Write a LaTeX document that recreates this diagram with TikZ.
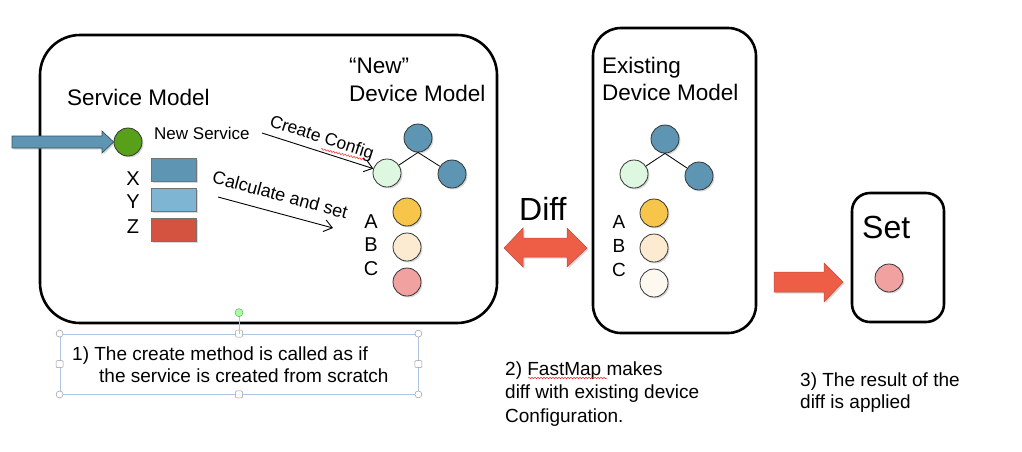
\documentclass[tikz,border=0pt]{standalone}
\usepackage{fontspec}
\setmainfont{Liberation Sans}
\usetikzlibrary{shadows,arrows.meta,decorations.pathmorphing}

\definecolor{steel}{RGB}{94,149,178}
\definecolor{skyb}{RGB}{125,181,211}
\definecolor{brick}{RGB}{211,82,64}
\definecolor{leaf}{RGB}{88,160,25}
\definecolor{mint}{RGB}{221,247,224}
\definecolor{gold}{RGB}{246,197,74}
\definecolor{cream}{RGB}{252,235,208}
\definecolor{rose}{RGB}{242,161,161}
\definecolor{ivory}{RGB}{253,248,240}
\definecolor{flame}{RGB}{238,94,71}
\definecolor{selblue}{RGB}{175,196,222}

\begin{document}
\begin{tikzpicture}[x=1pt,y=-1pt,
    shade/.style={drop shadow={shadow xshift=1.5pt,shadow yshift=-1.5pt,opacity=0.3}},
    dot/.style={circle,draw=black!80,line width=0.8pt,minimum size=28pt,inner sep=0pt,shade},
    bar/.style={draw=black!55,line width=0.6pt,minimum width=45pt,minimum height=23pt,inner sep=0pt,shade},
    panel/.style={draw,line width=2.6pt},
    title/.style={font=\fontsize{22.5}{27}\selectfont,anchor=base west,inner sep=0pt},
    letter/.style={font=\fontsize{20}{24}\selectfont,anchor=base,inner sep=0pt},
    note/.style={font=\fontsize{19}{23.5}\selectfont,anchor=base west,inner sep=0pt},
    big/.style={font=\fontsize{32}{36}\selectfont,anchor=base west,inner sep=0pt},
    thinarrow/.style={line width=0.9pt,-{Straight Barb[length=8pt,width=12pt]}},
    squiggle/.style={red!85,line width=0.5pt,decorate,decoration={snake,segment length=3pt,amplitude=0.8pt}},
    handle/.style={draw=black!40,fill=white,line width=0.5pt,inner sep=0pt,minimum size=7pt}]
  \useasboundingbox (0,0) rectangle (1022,451);

  % panels
  \draw[panel,rounded corners=40pt] (40,35) rectangle (497,323);
  \draw[panel,rounded corners=28pt] (593,28) rectangle (756,333);
  \draw[panel,rounded corners=18pt] (852,193) rectangle (944,322);

  % service model
  \node[title] (svctitle) at (67,105) {Service Model};
  \node[dot,fill=leaf] (svc) at (128,142) {};
  \node[font=\fontsize{17}{20}\selectfont,anchor=base west,inner sep=0pt] (newsvc) at (154,139) {New Service};
  \draw[fill=steel,draw=steel!55!black,line width=0.7pt,shade]
    (12,136) -- (102,136) -- (102,131) -- (svc.west) -- (102,153) -- (102,148) -- (12,148) -- cycle;
  \node[letter] (lx) at (133,185) {X};
  \node[letter] (ly) at (133,208) {Y};
  \node[letter] (lz) at (133,233) {Z};
  \node[bar,fill=steel] (bx) at (173.5,169.5) {};
  \node[bar,fill=skyb] (by) at (173.5,199.5) {};
  \node[bar,fill=brick] (bz) at (173.5,229.5) {};

  % "new" device model
  \node[title] (newq) at (349,73) {``New''};
  \node[title] (newdev) at (349,101) {Device Model};
  \node[dot,fill=steel] (nroot) at (418,138) {};
  \node[dot,fill=mint] (nleft) at (387,173) {};
  \node[dot,fill=steel] (nright) at (452,174) {};
  \draw[line width=0.8pt] (nleft) -- (nroot.south) -- (nright);
  \node[letter] (na) at (371,228) {A};
  \node[letter] (nb) at (371,251) {B};
  \node[letter] (nc) at (371,275) {C};
  \node[dot,fill=gold] (nA) at (407,212) {};
  \node[dot,fill=cream] (nB) at (407,247) {};
  \node[dot,fill=rose] (nC) at (407,282) {};

  \coordinate (cfgstart) at (262,133);
  \draw[thinarrow] (cfgstart) -- node[sloped,above=1pt,font=\fontsize{17.5}{20}\selectfont] (cfg) {Create Config} (nleft);
  \coordinate (calcstart) at (218,197);
  \coordinate (calcend) at (333,228);
  \draw[thinarrow] (calcstart) -- node[sloped,above=8pt,font=\fontsize{18}{21}\selectfont] (calc) {Calculate and set} (calcend);
  \draw[squiggle] (321,149) -- (366,160);

  % diff
  \node[big] (difftxt) at (519,220) {Diff};
  \draw[fill=flame,draw=flame!80!black,line width=0.5pt,shade]
    (504,248) -- (523,228) -- (523,238) -- (567,238) -- (567,228) -- (587,248)
    -- (567,267) -- (567,257) -- (523,257) -- (523,267) -- cycle;

  % existing device model
  \node[title] (extitle) at (602,73) {Existing};
  \node[title] (exdev) at (602,100) {Device Model};
  \node[dot,fill=steel] (eroot) at (665,139) {};
  \node[dot,fill=mint] (eleft) at (634,174) {};
  \node[dot,fill=steel] (eright) at (699,176) {};
  \draw[line width=0.8pt] (eleft) -- (eroot.south) -- (eright);
  \node[letter,font=\fontsize{19}{23}\selectfont] (ea) at (619,228) {A};
  \node[letter,font=\fontsize{19}{23}\selectfont] (eb) at (619,252) {B};
  \node[letter,font=\fontsize{19}{23}\selectfont] (ec) at (619,276) {C};
  \node[dot,fill=gold] (eA) at (654,213) {};
  \node[dot,fill=cream] (eB) at (654,248) {};
  \node[dot,fill=ivory] (eC) at (654,283) {};

  % set
  \draw[fill=flame,draw=flame!80!black,line width=0.5pt,shade]
    (774,272) -- (824,272) -- (824,263) -- (843,282) -- (824,302) -- (824,292) -- (774,292) -- cycle;
  \node[big] (settxt) at (862,238) {Set};
  \node[dot,fill=rose] (setdot) at (889,278) {};

  % notes
  \node[draw=selblue,line width=0.8pt,minimum width=358pt,minimum height=60pt,inner sep=0pt] (selbox) at (239,364) {};
  \foreach \p in {north west,north east,south west,south east}
    \node[handle,circle] at (selbox.\p) {};
  \foreach \p in {north,south,east,west}
    \node[handle,rounded corners=1pt] at (selbox.\p) {};
  \draw[selblue,line width=0.8pt] (selbox.north) -- ++(0,-21) coordinate (rot);
  \node[circle,draw=green!45!black!60,fill=green!35!white,line width=0.5pt,minimum size=8pt,inner sep=0pt] (rothandle) at (rot) {};
  \node[note] (note1a) at (72,360) {1) The create method is called as if};
  \node[note] (note1b) at (99,382) {the service is created from scratch};

  \node[note] (note2a) at (505,375) {2) FastMap makes};
  \node[note] (note2b) at (505,398) {diff with existing device};
  \node[note] (note2c) at (505,422) {Configuration.};
  \draw[squiggle] (528,378) -- (607,378);

  \node[note] (note3a) at (800,386) {3) The result of the};
  \node[note] (note3b) at (800,408) {diff is applied};
\end{tikzpicture}
\end{document}
